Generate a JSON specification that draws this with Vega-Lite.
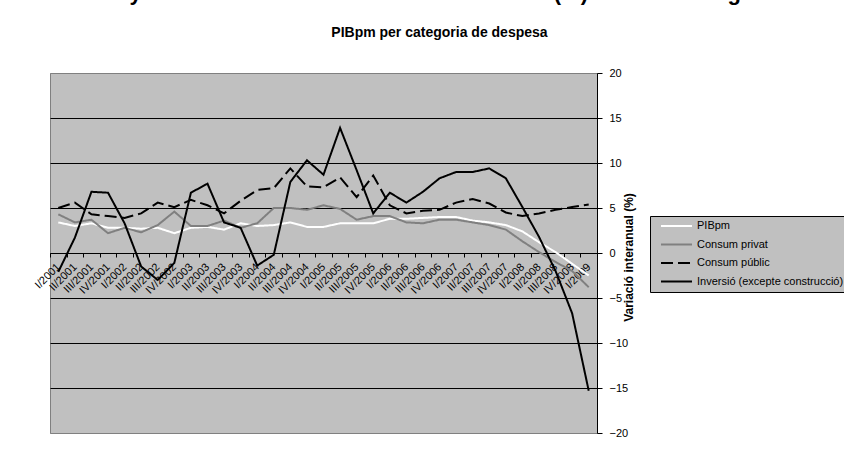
{
  "$schema": "https://vega.github.io/schema/vega-lite/v6.json",
  "autosize": {"type": "none"},
  "width": 547,
  "height": 360,
  "padding": {"left": 50, "top": 73, "right": 247, "bottom": 17},
  "background": "white",
  "title": {
    "text": "Índex de volum encadenat. Any base 2000 i taxa de variació interanual (%). Dades corregides d'estacionalitat i calendari",
    "subtitle": "PIBpm per categoria de despesa",
    "anchor": "middle",
    "frame": "bounds",
    "font": "Liberation Sans",
    "fontSize": 22,
    "fontWeight": "bold",
    "color": "black",
    "subtitleFont": "Liberation Sans",
    "subtitleFontSize": 14,
    "subtitleFontWeight": "bold",
    "subtitleColor": "black",
    "offset": 26,
    "subtitlePadding": 21
  },
  "config": {
    "view": {"fill": "#C0C0C0", "stroke": "#808080", "strokeWidth": 1},
    "font": "Liberation Sans",
    "legend": {
      "orient": "none",
      "legendX": 600,
      "legendY": 143,
      "fillColor": "#C0C0C0",
      "strokeColor": "#000000",
      "padding": 2,
      "symbolOffset": 8,
      "symbolType": "stroke",
      "symbolSize": 960,
      "symbolStrokeWidth": 2,
      "clipHeight": 16,
      "labelFont": "Liberation Sans",
      "labelFontSize": 11,
      "labelColor": "black",
      "labelOffset": 4,
      "rowPadding": 2.5,
      "labelLimit": 400
    }
  },
  "data": {
    "values": [
      {"q":"I/2001","s":"PIBpm","v":3.4},{"q":"II/2001","s":"PIBpm","v":3.0},{"q":"III/2001","s":"PIBpm","v":3.3},{"q":"IV/2001","s":"PIBpm","v":2.8},
      {"q":"I/2002","s":"PIBpm","v":2.8},{"q":"II/2002","s":"PIBpm","v":2.7},{"q":"III/2002","s":"PIBpm","v":2.8},{"q":"IV/2002","s":"PIBpm","v":2.2},
      {"q":"I/2003","s":"PIBpm","v":2.8},{"q":"II/2003","s":"PIBpm","v":2.9},{"q":"III/2003","s":"PIBpm","v":2.6},{"q":"IV/2003","s":"PIBpm","v":3.3},
      {"q":"I/2004","s":"PIBpm","v":3.0},{"q":"II/2004","s":"PIBpm","v":3.1},{"q":"III/2004","s":"PIBpm","v":3.4},{"q":"IV/2004","s":"PIBpm","v":2.9},
      {"q":"I/2005","s":"PIBpm","v":2.9},{"q":"II/2005","s":"PIBpm","v":3.3},{"q":"III/2005","s":"PIBpm","v":3.3},{"q":"IV/2005","s":"PIBpm","v":3.3},
      {"q":"I/2006","s":"PIBpm","v":3.8},{"q":"II/2006","s":"PIBpm","v":3.8},{"q":"III/2006","s":"PIBpm","v":3.9},{"q":"IV/2006","s":"PIBpm","v":4.0},
      {"q":"I/2007","s":"PIBpm","v":4.0},{"q":"II/2007","s":"PIBpm","v":3.6},{"q":"III/2007","s":"PIBpm","v":3.4},{"q":"IV/2007","s":"PIBpm","v":3.1},
      {"q":"I/2008","s":"PIBpm","v":2.4},{"q":"II/2008","s":"PIBpm","v":1.2},{"q":"III/2008","s":"PIBpm","v":0.1},{"q":"IV/2008","s":"PIBpm","v":-1.2},
      {"q":"I/2009","s":"PIBpm","v":-2.5},

      {"q":"I/2001","s":"Consum privat","v":4.3},{"q":"II/2001","s":"Consum privat","v":3.4},{"q":"III/2001","s":"Consum privat","v":3.7},{"q":"IV/2001","s":"Consum privat","v":2.2},
      {"q":"I/2002","s":"Consum privat","v":2.8},{"q":"II/2002","s":"Consum privat","v":2.3},{"q":"III/2002","s":"Consum privat","v":3.1},{"q":"IV/2002","s":"Consum privat","v":4.6},
      {"q":"I/2003","s":"Consum privat","v":3.0},{"q":"II/2003","s":"Consum privat","v":3.0},{"q":"III/2003","s":"Consum privat","v":3.6},{"q":"IV/2003","s":"Consum privat","v":2.8},
      {"q":"I/2004","s":"Consum privat","v":3.3},{"q":"II/2004","s":"Consum privat","v":5.0},{"q":"III/2004","s":"Consum privat","v":5.0},{"q":"IV/2004","s":"Consum privat","v":4.8},
      {"q":"I/2005","s":"Consum privat","v":5.3},{"q":"II/2005","s":"Consum privat","v":4.9},{"q":"III/2005","s":"Consum privat","v":3.7},{"q":"IV/2005","s":"Consum privat","v":4.1},
      {"q":"I/2006","s":"Consum privat","v":4.1},{"q":"II/2006","s":"Consum privat","v":3.4},{"q":"III/2006","s":"Consum privat","v":3.3},{"q":"IV/2006","s":"Consum privat","v":3.7},
      {"q":"I/2007","s":"Consum privat","v":3.7},{"q":"II/2007","s":"Consum privat","v":3.4},{"q":"III/2007","s":"Consum privat","v":3.1},{"q":"IV/2007","s":"Consum privat","v":2.6},
      {"q":"I/2008","s":"Consum privat","v":1.3},{"q":"II/2008","s":"Consum privat","v":0.1},{"q":"III/2008","s":"Consum privat","v":-1.0},{"q":"IV/2008","s":"Consum privat","v":-2.0},
      {"q":"I/2009","s":"Consum privat","v":-3.8},

      {"q":"I/2001","s":"Consum públic","v":5.0},{"q":"II/2001","s":"Consum públic","v":5.6},{"q":"III/2001","s":"Consum públic","v":4.3},{"q":"IV/2001","s":"Consum públic","v":4.1},
      {"q":"I/2002","s":"Consum públic","v":3.9},{"q":"II/2002","s":"Consum públic","v":4.4},{"q":"III/2002","s":"Consum públic","v":5.6},{"q":"IV/2002","s":"Consum públic","v":5.1},
      {"q":"I/2003","s":"Consum públic","v":5.9},{"q":"II/2003","s":"Consum públic","v":5.3},{"q":"III/2003","s":"Consum públic","v":4.4},{"q":"IV/2003","s":"Consum públic","v":5.8},
      {"q":"I/2004","s":"Consum públic","v":7.0},{"q":"II/2004","s":"Consum públic","v":7.2},{"q":"III/2004","s":"Consum públic","v":9.4},{"q":"IV/2004","s":"Consum públic","v":7.4},
      {"q":"I/2005","s":"Consum públic","v":7.3},{"q":"II/2005","s":"Consum públic","v":8.4},{"q":"III/2005","s":"Consum públic","v":6.2},{"q":"IV/2005","s":"Consum públic","v":8.6},
      {"q":"I/2006","s":"Consum públic","v":5.3},{"q":"II/2006","s":"Consum públic","v":4.4},{"q":"III/2006","s":"Consum públic","v":4.7},{"q":"IV/2006","s":"Consum públic","v":4.8},
      {"q":"I/2007","s":"Consum públic","v":5.6},{"q":"II/2007","s":"Consum públic","v":6.0},{"q":"III/2007","s":"Consum públic","v":5.5},{"q":"IV/2007","s":"Consum públic","v":4.5},
      {"q":"I/2008","s":"Consum públic","v":4.1},{"q":"II/2008","s":"Consum públic","v":4.4},{"q":"III/2008","s":"Consum públic","v":4.8},{"q":"IV/2008","s":"Consum públic","v":5.1},
      {"q":"I/2009","s":"Consum públic","v":5.4},

      {"q":"I/2001","s":"Inversió (excepte construcció)","v":-2.1},{"q":"II/2001","s":"Inversió (excepte construcció)","v":1.7},{"q":"III/2001","s":"Inversió (excepte construcció)","v":6.8},{"q":"IV/2001","s":"Inversió (excepte construcció)","v":6.7},
      {"q":"I/2002","s":"Inversió (excepte construcció)","v":3.3},{"q":"II/2002","s":"Inversió (excepte construcció)","v":-1.5},{"q":"III/2002","s":"Inversió (excepte construcció)","v":-3.0},{"q":"IV/2002","s":"Inversió (excepte construcció)","v":-1.1},
      {"q":"I/2003","s":"Inversió (excepte construcció)","v":6.7},{"q":"II/2003","s":"Inversió (excepte construcció)","v":7.7},{"q":"III/2003","s":"Inversió (excepte construcció)","v":3.4},{"q":"IV/2003","s":"Inversió (excepte construcció)","v":2.8},
      {"q":"I/2004","s":"Inversió (excepte construcció)","v":-1.4},{"q":"II/2004","s":"Inversió (excepte construcció)","v":-0.2},{"q":"III/2004","s":"Inversió (excepte construcció)","v":7.9},{"q":"IV/2004","s":"Inversió (excepte construcció)","v":10.3},
      {"q":"I/2005","s":"Inversió (excepte construcció)","v":8.7},{"q":"II/2005","s":"Inversió (excepte construcció)","v":13.9},{"q":"III/2005","s":"Inversió (excepte construcció)","v":9.2},{"q":"IV/2005","s":"Inversió (excepte construcció)","v":4.4},
      {"q":"I/2006","s":"Inversió (excepte construcció)","v":6.7},{"q":"II/2006","s":"Inversió (excepte construcció)","v":5.6},{"q":"III/2006","s":"Inversió (excepte construcció)","v":6.8},{"q":"IV/2006","s":"Inversió (excepte construcció)","v":8.3},
      {"q":"I/2007","s":"Inversió (excepte construcció)","v":9.0},{"q":"II/2007","s":"Inversió (excepte construcció)","v":9.0},{"q":"III/2007","s":"Inversió (excepte construcció)","v":9.4},{"q":"IV/2007","s":"Inversió (excepte construcció)","v":8.3},
      {"q":"I/2008","s":"Inversió (excepte construcció)","v":5.1},{"q":"II/2008","s":"Inversió (excepte construcció)","v":1.8},{"q":"III/2008","s":"Inversió (excepte construcció)","v":-2.0},{"q":"IV/2008","s":"Inversió (excepte construcció)","v":-6.7},
      {"q":"I/2009","s":"Inversió (excepte construcció)","v":-15.3}
    ]
  },
  "mark": {"type": "line", "strokeWidth": 2},
  "encoding": {
    "x": {
      "field": "q",
      "type": "ordinal",
      "sort": null,
      "bandPosition": 0.5,
      "scale": {"type": "band", "paddingInner": 0, "paddingOuter": 0},
      "axis": {
        "title": null,
        "orient": "bottom",
        "offset": -180,
        "labelAngle": -45,
        "labelAlign": "right",
        "labelBaseline": "middle",
        "labelFont": "Liberation Sans",
        "labelFontSize": 11,
        "labelColor": "black",
        "labelPadding": 8,
        "labelOverlap": false,
        "labelBound": false,
        "labelFlush": false,
        "tickBand": "extent",
        "tickSize": 4,
        "tickColor": "black",
        "domainColor": "black",
        "grid": false
      }
    },
    "y": {
      "field": "v",
      "type": "quantitative",
      "scale": {"domain": [-20, 20], "nice": false, "zero": false},
      "axis": {
        "orient": "right",
        "values": [-20, -15, -10, -5, 0, 5, 10, 15, 20],
        "grid": true,
        "gridColor": {"condition": {"test": "abs(datum.value) == 20", "value": "#808080"}, "value": "black"},
        "gridWidth": 1,
        "gridOpacity": 1,
        "domainColor": "black",
        "tickColor": "black",
        "tickSize": 5,
        "labelFont": "Liberation Sans",
        "labelFontSize": 11,
        "labelColor": "black",
        "labelPadding": 7,
        "title": "Variació interanual (%)",
        "titleFont": "Liberation Sans",
        "titleFontSize": 12,
        "titleFontWeight": "bold",
        "titleColor": "black",
        "titleAngle": 270,
        "titleAlign": "center",
        "titleBaseline": "middle",
        "titleX": 31,
        "titleY": 184
      }
    },
    "color": {
      "field": "s",
      "type": "nominal",
      "sort": ["PIBpm", "Consum privat", "Consum públic", "Inversió (excepte construcció)"],
      "scale": {
        "domain": ["PIBpm", "Consum privat", "Consum públic", "Inversió (excepte construcció)"],
        "range": ["#FFFFFF", "#808080", "#000000", "#000000"]
      },
      "legend": {"title": null}
    },
    "strokeDash": {
      "field": "s",
      "type": "nominal",
      "sort": ["PIBpm", "Consum privat", "Consum públic", "Inversió (excepte construcció)"],
      "scale": {
        "domain": ["PIBpm", "Consum privat", "Consum públic", "Inversió (excepte construcció)"],
        "range": [[1, 0], [1, 0], [12, 5], [1, 0]]
      },
      "legend": {"title": null}
    }
  }
}
